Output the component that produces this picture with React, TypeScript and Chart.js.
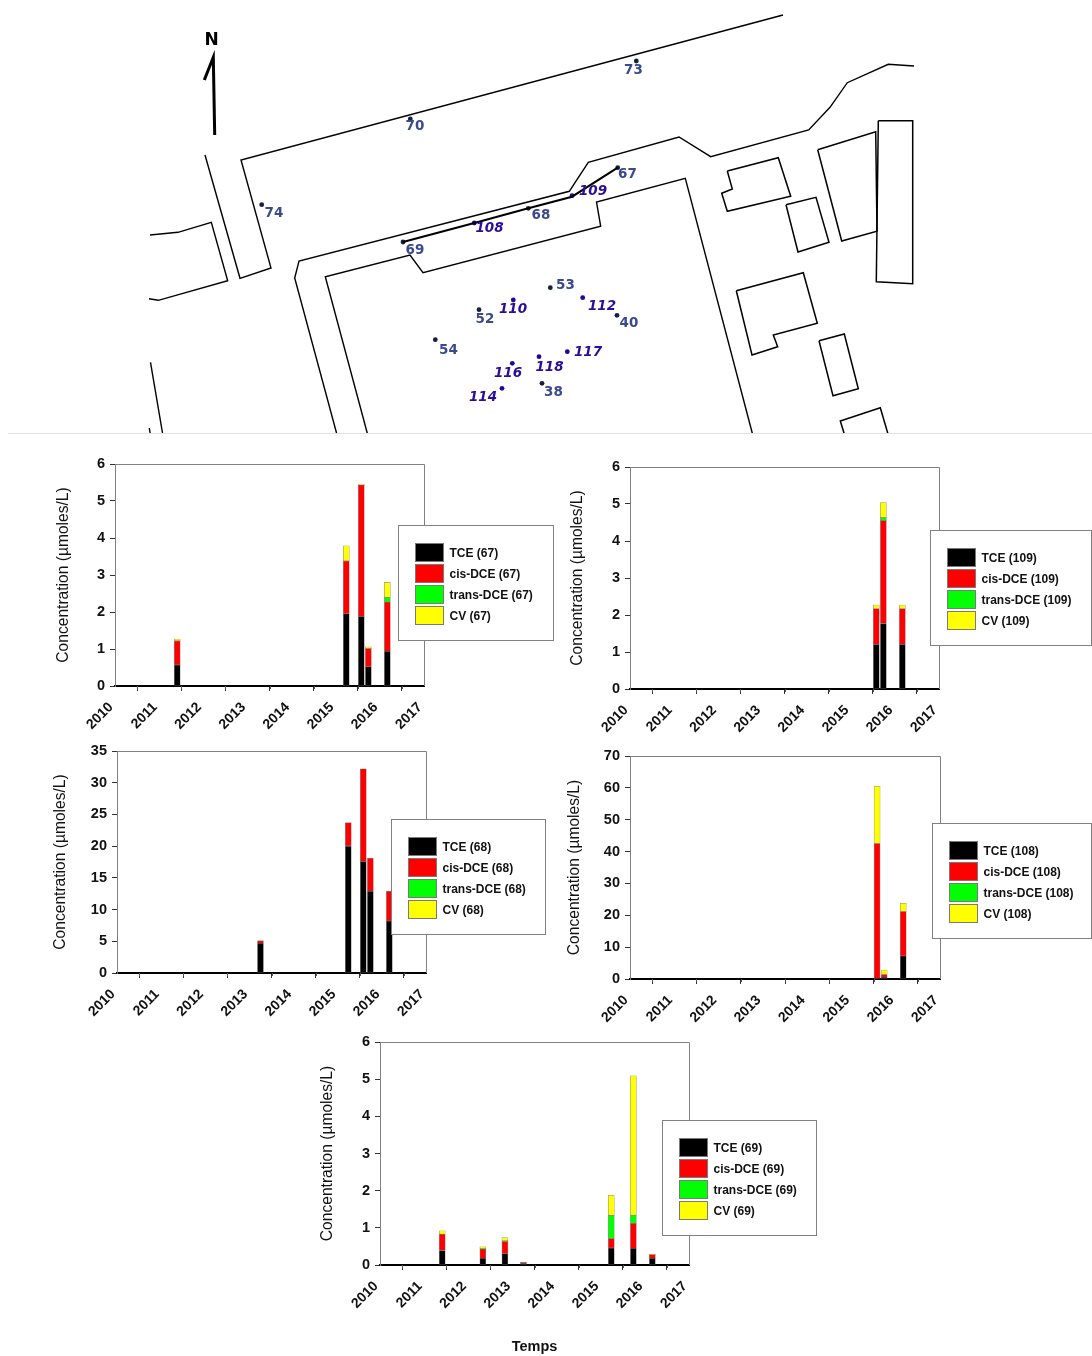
import React, { useEffect, useRef } from "react";
import { Chart, registerables } from "chart.js";

Chart.register(...registerables);

type Pt = [number, number];

// ---------- chart data ----------
const yearTicks = [2010, 2011, 2012, 2013, 2014, 2015, 2016, 2017];
const compoundNames = ["TCE", "cis-DCE", "trans-DCE", "CV"];
const compoundColors = ["#000000", "#ff0000", "#00ff00", "#ffff00"];

const dates67 = [2011.41, 2015.24, 2015.58, 2015.74, 2016.17];
const tce67 = [0.57, 1.95, 1.88, 0.52, 0.94];
const cis67 = [0.65, 1.43, 3.55, 0.49, 1.33];
const trans67 = [0, 0, 0, 0, 0.12];
const cv67 = [0.05, 0.41, 0.02, 0.05, 0.41];

const dates109 = [2015.58, 2015.74, 2016.17];
const tce109 = [1.2, 1.77, 1.2];
const cis109 = [0.97, 2.78, 0.97];
const trans109 = [0, 0.08, 0];
const cv109 = [0.1, 0.41, 0.1];

const dates68 = [2013.25, 2015.24, 2015.58, 2015.74, 2016.17];
const tce68 = [4.7, 20, 17.6, 12.9, 8.2];
const cis68 = [0.4, 3.7, 14.6, 5.2, 4.7];
const trans68 = [0, 0, 0, 0, 0];
const cv68 = [0, 0, 0, 0, 0];

const dates108 = [2015.58, 2015.74, 2016.17];
const tce108 = [0, 0.5, 7.2];
const cis108 = [42.5, 0.9, 14];
const trans108 = [0, 0, 0];
const cv108 = [18, 1.4, 2.6];

const dates69 = [2011.41, 2012.33, 2012.83, 2013.25, 2015.24, 2015.74, 2016.17];
const tce69 = [0.39, 0.18, 0.3, 0.05, 0.46, 0.45, 0.18];
const cis69 = [0.44, 0.25, 0.33, 0.02, 0.25, 0.67, 0.1];
const trans69 = [0, 0.02, 0.02, 0, 0.62, 0.22, 0];
const cv69 = [0.09, 0.04, 0.09, 0.01, 0.55, 3.75, 0.01];

// ---------- map data (site plan units) ----------
const mapOutlines: Pt[][] = [
  [[783, 15], [241, 160], [271, 268], [240, 278.3], [205, 155]],
  [[150, 235], [178, 232.3], [211.3, 222.3], [227.7, 280.7], [158.3, 300.3], [149, 298.7]],
  [[150.5, 362.3], [162.7, 434]],
  [[149.3, 428], [150.3, 434]],
  [[336.8, 434], [294.7, 278], [299, 261], [569.3, 191.3], [588.3, 162.3], [679, 137], [710.7, 156.7], [808.7, 130], [830, 107.3], [847.3, 82.7], [888.3, 64.3], [914, 66]],
  [[367.5, 434], [325.3, 276.7], [410, 255], [423, 272.7], [600.7, 226.3], [596.5, 202], [685.3, 178.3], [752.5, 434]],
];
const mapBuildings: Pt[][] = [
  [[727.3, 171], [778.3, 157.7], [790.7, 196.3], [727.3, 211.3], [721.7, 193.3], [732.3, 189], [727.3, 171]],
  [[786, 204.7], [816, 197.3], [829, 242.3], [798, 252], [786, 204.7]],
  [[817.7, 149.7], [875.7, 131.7], [877, 231.3], [841.7, 241], [817.7, 149.7]],
  [[878.3, 120.7], [912.7, 120.7], [912.7, 283.7], [876.3, 281.7], [878.3, 120.7]],
  [[736.3, 290.7], [803.3, 272.7], [817.3, 323.3], [773.3, 335], [777.7, 346.7], [752, 355], [736.3, 290.7]],
  [[819, 340.7], [844.3, 334], [858.3, 388.7], [833, 395.7], [819, 340.7]],
  [[844.3, 434], [840.3, 421], [880.3, 407.7], [888, 434]],
];
const trenchLine: Pt[] = [[403, 242], [474.3, 223], [528.3, 208.3], [572, 196.7], [617.7, 167.7]];
const northArrow: Pt[] = [[214.7, 135], [213.3, 57.3], [204.3, 80]];

const oldWellNames = ["70", "73", "74", "67", "68", "69", "53", "52", "54", "40", "38"];
const oldWellPoints: Pt[] = [[410.3, 119], [636.3, 61], [261.7, 204.7], [617.7, 167.7], [528.3, 208.3], [403, 242], [550.3, 287.7], [479, 309.7], [435.3, 339.7], [617, 315.3], [542, 383.3]];
const oldWellLabels: Pt[] = [[415, 126.5], [633.5, 70.5], [274, 213.5], [627.5, 174.5], [541, 215], [415, 250], [565.5, 285], [485, 319], [448.5, 350], [629, 323], [553.5, 392]];

const newWellNames = ["109", "108", "110", "112", "117", "118", "116", "114"];
const newWellPoints: Pt[] = [[572, 195.7], [474.3, 223], [513.3, 300], [582.7, 297.7], [567.3, 351.7], [539, 356.7], [512.3, 363.3], [502, 388.3]];
const newWellLabels: Pt[] = [[593, 191.5], [489.5, 228.5], [513, 309], [602, 306], [588, 352], [549.5, 367], [508, 373], [483, 397]];

// ---------- helpers ----------
const FONT = "'Liberation Sans', Arial, sans-serif";
const toXY = (pts: Pt[]) => pts.map(([x, y]) => ({ x, y }));

const mapLabels = {
  id: "mapLabels",
  afterDatasetsDraw(chart: any) {
    const { ctx, scales } = chart;
    const draw = (names: string[], at: Pt[], color: string, font: string) => {
      ctx.save();
      ctx.fillStyle = color;
      ctx.font = font;
      ctx.textAlign = "center";
      ctx.textBaseline = "middle";
      names.forEach((n, i) => ctx.fillText(n, scales.x.getPixelForValue(at[i][0]), scales.y.getPixelForValue(at[i][1])));
      ctx.restore();
    };
    draw(oldWellNames, oldWellLabels, "#3b4a8f", "bold 13.5px 'DejaVu Sans'");
    draw(newWellNames, newWellLabels, "#2a0d9a", "italic bold 13.5px 'DejaVu Sans'");
    draw(["N"], [[211.5, 40.5]], "#000000", "900 17px 'DejaVu Sans'");
  },
};

function MapPanel() {
  const ref = useRef<HTMLCanvasElement>(null);
  useEffect(() => {
    const line = (pts: Pt[], w: number) => ({
      data: toXY(pts),
      showLine: true,
      borderColor: "#000000",
      borderWidth: w,
      pointRadius: 0,
      fill: false,
      tension: 0,
    });
    const wells = (pts: Pt[], color: string) => ({
      data: toXY(pts),
      showLine: false,
      pointRadius: 2.4,
      pointBorderWidth: 0,
      pointBackgroundColor: color,
    });
    const chart = new Chart(ref.current!, {
      type: "scatter",
      data: {
        datasets: [
          ...mapOutlines.map((p) => line(p, 1.4)),
          ...mapBuildings.map((p) => line(p, 1.5)),
          line(trenchLine, 2),
          line(northArrow, 3),
          wells(oldWellPoints, "#16203f"),
          wells(newWellPoints, "#1f0a96"),
        ],
      } as any,
      options: {
        animation: false,
        responsive: false,
        devicePixelRatio: 1,
        layout: { padding: 0, autoPadding: false },
        plugins: { legend: { display: false }, tooltip: { enabled: false } },
        scales: {
          x: { type: "linear", display: false, min: 0, max: 1092 },
          y: { type: "linear", display: false, min: 0, max: 434, reverse: true },
        },
      } as any,
      plugins: [mapLabels],
    });
    return () => chart.destroy();
  }, []);
  return <canvas ref={ref} width={1092} height={434} style={{ position: "absolute", left: 0, top: 0, display: "block" }} />;
}

interface PanelProps {
  well: string;
  dates: number[];
  series: number[][];
  yMax: number;
  yStep: number;
  plot: [number, number, number, number];
  titleX: number;
  legendBox: [number, number, number, number];
  temps?: boolean;
}

const panelDecor = (props: PanelProps, canvasLeft: number, canvasTop: number) => ({
  id: "panelDecor",
  beforeDatasetsDraw(chart: any) {
    const { ctx, chartArea: a, scales } = chart;
    ctx.save();
    ctx.strokeStyle = "#808080";
    ctx.lineWidth = 1;
    ctx.beginPath();
    ctx.moveTo(a.left + 0.5, a.top + 0.5);
    ctx.lineTo(a.right + 0.5, a.top + 0.5);
    ctx.lineTo(a.right + 0.5, a.bottom);
    ctx.stroke();
    // half-year minor ticks
    ctx.strokeStyle = "#555555";
    yearTicks.slice(0, -1).forEach((y) => {
      const px = Math.round(scales.x.getPixelForValue(y + 0.5)) + 0.5;
      ctx.beginPath();
      ctx.moveTo(px, a.bottom);
      ctx.lineTo(px, a.bottom + 3);
      ctx.stroke();
    });
    ctx.restore();
  },
  afterDraw(chart: any) {
    const { ctx } = chart;
    const [bx0, by0, bx1, by1] = props.legendBox;
    const ox = bx0 - canvasLeft;
    const oy = by0 - canvasTop;
    ctx.save();
    ctx.fillStyle = "#ffffff";
    ctx.strokeStyle = "#808080";
    ctx.lineWidth = 1;
    ctx.fillRect(ox, oy, bx1 - bx0, by1 - by0);
    ctx.strokeRect(ox + 0.5, oy + 0.5, bx1 - bx0 - 1, by1 - by0 - 1);
    chart.data.datasets.forEach((ds: any, i: number) => {
      const rowY = oy + 19 + i * 21;
      ctx.fillStyle = ds.backgroundColor;
      ctx.fillRect(ox + 18, rowY, 27, 17);
      ctx.strokeStyle = "#7a7a7a";
      ctx.strokeRect(ox + 17.5, rowY - 0.5, 28, 18);
      ctx.fillStyle = "#111111";
      ctx.font = `bold 12px ${FONT}`;
      ctx.textAlign = "left";
      ctx.textBaseline = "middle";
      ctx.fillText(ds.label, ox + 51.5, rowY + 9.5);
    });
    ctx.restore();
  },
});

function Panel(props: PanelProps) {
  const ref = useRef<HTMLCanvasElement>(null);
  const { well, dates, series, yMax, yStep, plot, titleX, legendBox, temps } = props;
  const [pl, pt, pr, pb] = plot;
  const canvasLeft = titleX - 9;
  const canvasTop = pt - 20;
  const canvasRight = Math.max(legendBox[2], pr + 12);
  const canvasBottom = temps ? 1356 : pb + 54;
  useEffect(() => {
    const chart = new Chart(ref.current!, {
      type: "bar",
      data: {
        datasets: series.map((vals, i) => ({
          label: `${compoundNames[i]} (${well})`,
          data: dates.map((d, k) => ({ x: d, y: vals[k] === 0 ? null : vals[k] })),
          backgroundColor: compoundColors[i],
          borderColor: "rgba(110,110,110,0.75)",
          borderWidth: 0.6,
          borderSkipped: false,
          barThickness: 6,
        })),
      } as any,
      options: {
        animation: false,
        responsive: false,
        devicePixelRatio: 1,
        layout: { padding: { left: 0, top: 20, right: canvasRight - pr, bottom: 0 } },
        plugins: { legend: { display: false }, tooltip: { enabled: false } },
        scales: {
          x: {
            type: "linear",
            offset: false,
            stacked: true,
            min: yearTicks[0],
            max: yearTicks[yearTicks.length - 1],
            afterBuildTicks: (s: any) => {
              s.ticks = yearTicks.map((value) => ({ value }));
            },
            afterFit: (s: any) => {
              s.height = canvasBottom - pb;
            },
            border: { color: "#000000", width: 2 },
            grid: { drawOnChartArea: false, drawTicks: true, tickLength: 5, tickColor: "#333333" },
            ticks: {
              autoSkip: false,
              maxRotation: 45,
              minRotation: 45,
              padding: 8,
              labelOffset: -4,
              color: "#111111",
              font: { family: FONT, size: 14, weight: "bold" },
              callback: (v: number) => String(v),
            },
            title: temps
              ? {
                  display: true,
                  text: "Temps",
                  color: "#111111",
                  padding: { top: 0, bottom: 0 },
                  font: { family: FONT, size: 14.5, weight: "bold" },
                }
              : { display: false },
          },
          y: {
            type: "linear",
            stacked: true,
            min: 0,
            max: yMax,
            afterFit: (s: any) => {
              s.width = pl - canvasLeft;
            },
            border: { color: "#808080", width: 1 },
            grid: { drawOnChartArea: false, drawTicks: true, tickLength: 5, tickColor: "#333333" },
            ticks: {
              stepSize: yStep,
              padding: 5,
              color: "#111111",
              font: { family: FONT, size: 14.5, weight: "bold" },
            },
            title: {
              display: true,
              text: "Concentration (µmoles/L)",
              color: "#111111",
              padding: 0,
              font: { family: FONT, size: 15.6, lineHeight: 1.2 },
            },
          },
        },
      } as any,
      plugins: [panelDecor(props, canvasLeft, canvasTop)],
    });
    return () => chart.destroy();
  }, []);
  return (
    <canvas
      ref={ref}
      width={canvasRight - canvasLeft}
      height={canvasBottom - canvasTop}
      style={{ position: "absolute", left: canvasLeft, top: canvasTop, display: "block" }}
    />
  );
}

export default function App() {
  return (
    <div style={{ position: "absolute", left: 0, top: 0, width: 1092, height: 1356, overflow: "hidden", background: "#fff" }}>
      <MapPanel />
      <div style={{ position: "absolute", left: 8, top: 433, width: 1084, height: 1, background: "#e2e2e2" }} />
      <Panel well="67" dates={dates67} series={[tce67, cis67, trans67, cv67]} yMax={6} yStep={1} plot={[115, 464, 424, 686]} titleX={63} legendBox={[398, 525, 554, 641]} />
      <Panel well="109" dates={dates109} series={[tce109, cis109, trans109, cv109]} yMax={6} yStep={1} plot={[630, 467, 939, 689]} titleX={577} legendBox={[930, 530, 1092, 646]} />
      <Panel well="68" dates={dates68} series={[tce68, cis68, trans68, cv68]} yMax={35} yStep={5} plot={[117, 751, 426, 973]} titleX={60} legendBox={[391, 819, 546, 935]} />
      <Panel well="108" dates={dates108} series={[tce108, cis108, trans108, cv108]} yMax={70} yStep={10} plot={[630, 756, 940, 979]} titleX={574} legendBox={[932, 823, 1092, 939]} />
      <Panel well="69" dates={dates69} series={[tce69, cis69, trans69, cv69]} yMax={6} yStep={1} plot={[380, 1042, 689, 1265]} titleX={327} legendBox={[662, 1120, 817, 1236]} temps />
    </div>
  );
}
